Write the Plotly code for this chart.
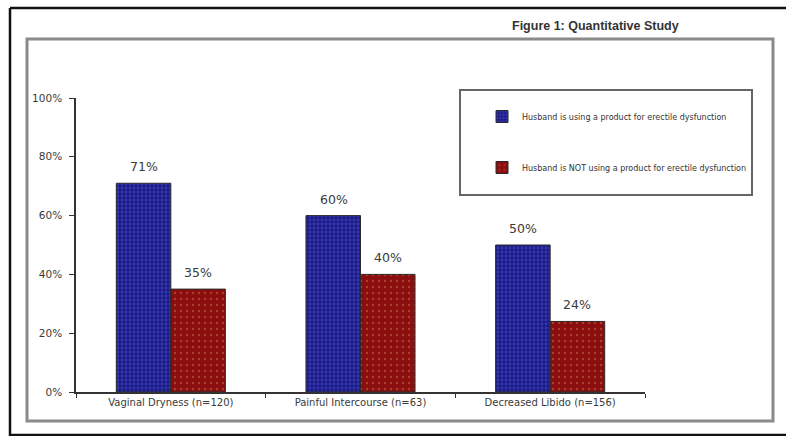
import plotly.graph_objects as go

categories = ["Vaginal Dryness (n=120)", "Painful Intercourse (n=63)", "Decreased Libido (n=156)"]
series_names = ["Husband is using a product for erectile dysfunction",
                "Husband is NOT using a product for erectile dysfunction"]
using_values = [71, 60, 50]
not_using_values = [35, 40, 24]
y_ticks = [0, 20, 40, 60, 80, 100]
y_tick_labels = ["0%", "20%", "40%", "60%", "80%", "100%"]
title_text = "<b>Figure 1: Quantitative Study</b>"

W, H = 786, 436
L, R, T, B = 76, 141, 98, 44
PW, PH = W - L - R, H - T - B


def px_x(p):
    return (p - L) / PW


def px_y(p):
    return (H - B - p) / PH


fig = go.Figure()
fig.add_trace(go.Bar(
    x=categories, y=using_values, name=series_names[0], legendgroup="a",
    marker=dict(color="#1f1f8c", line=dict(color="#2a2a2a", width=1),
                pattern=dict(shape=".", fgcolor="#5050d8", bgcolor="#1c1c86",
                             size=4, solidity=0.4)),
))
fig.add_trace(go.Bar(
    x=categories, y=not_using_values, name=series_names[1], legendgroup="b",
    marker=dict(color="#8a0e0e", line=dict(color="#2a2a2a", width=1),
                pattern=dict(shape=".", fgcolor="#c8704a", bgcolor="#8a0e0e",
                             size=6, solidity=0.12)),
))

annotations = []
for vals, shift in ((using_values, -27), (not_using_values, 27)):
    for c, v in zip(categories, vals):
        annotations.append(dict(
            x=c, y=v, xref="x", yref="y", text=f"{v}%", showarrow=False,
            xshift=shift, yshift=7, yanchor="bottom",
            font=dict(family="DejaVu Sans", size=12.5, color="#3a3a3a"),
        ))
annotations.append(dict(
    x=px_x(595), y=px_y(26), xref="paper", yref="paper", text=title_text,
    showarrow=False, xanchor="center", yanchor="middle",
    font=dict(family="Liberation Sans", size=12.5, color="#333333"),
))

shapes = [
    # outer black frame
    dict(type="line", xref="paper", yref="paper", x0=px_x(10), x1=px_x(790),
         y0=px_y(8), y1=px_y(8), line=dict(color="#111111", width=2.5)),
    dict(type="line", xref="paper", yref="paper", x0=px_x(10), x1=px_x(10),
         y0=px_y(8), y1=px_y(440), line=dict(color="#111111", width=2.5)),
    dict(type="line", xref="paper", yref="paper", x0=px_x(10), x1=px_x(790),
         y0=px_y(435), y1=px_y(435), line=dict(color="#111111", width=2.5)),
    # inner gray box
    dict(type="rect", xref="paper", yref="paper", x0=px_x(27), x1=px_x(773),
         y0=px_y(39), y1=px_y(421), line=dict(color="#8a8a8a", width=3)),
    # legend box
    dict(type="rect", xref="paper", yref="paper", x0=px_x(460), x1=px_x(752),
         y0=px_y(90), y1=px_y(195), line=dict(color="#666666", width=2)),
]

fig.update_layout(
    width=W, height=H,
    margin=dict(l=L, r=R, t=T, b=B, pad=0),
    paper_bgcolor="white", plot_bgcolor="white",
    barmode="group", bargap=0.425, bargroupgap=0,
    font=dict(family="DejaVu Sans", size=10, color="#3a3a3a"),
    showlegend=True,
    legend=dict(x=px_x(482), y=px_y(102), xanchor="left", yanchor="top",
                xref="paper", yref="paper",
                font=dict(family="DejaVu Sans", size=8, color="#333333"),
                bgcolor="rgba(0,0,0,0)", borderwidth=0,
                tracegroupgap=32, itemwidth=30, traceorder="grouped"),
    annotations=annotations,
    shapes=shapes,
)
fig.update_xaxes(
    showline=True, linecolor="#333333", linewidth=1.5,
    ticks="outside", tickson="boundaries", ticklen=4, tickcolor="#333333",
    showgrid=False, tickfont=dict(family="DejaVu Sans", size=10, color="#3a3a3a"),
)
fig.update_yaxes(
    range=[0, 100], tickvals=y_ticks, ticktext=y_tick_labels,
    showline=True, linecolor="#333333", linewidth=1.5,
    ticks="outside", ticklen=5, tickcolor="#333333", showgrid=False, zeroline=False,
    ticklabelstandoff=5,
    tickfont=dict(family="DejaVu Sans", size=10.5, color="#3a3a3a"),
)

fig.write_html("out.html")
